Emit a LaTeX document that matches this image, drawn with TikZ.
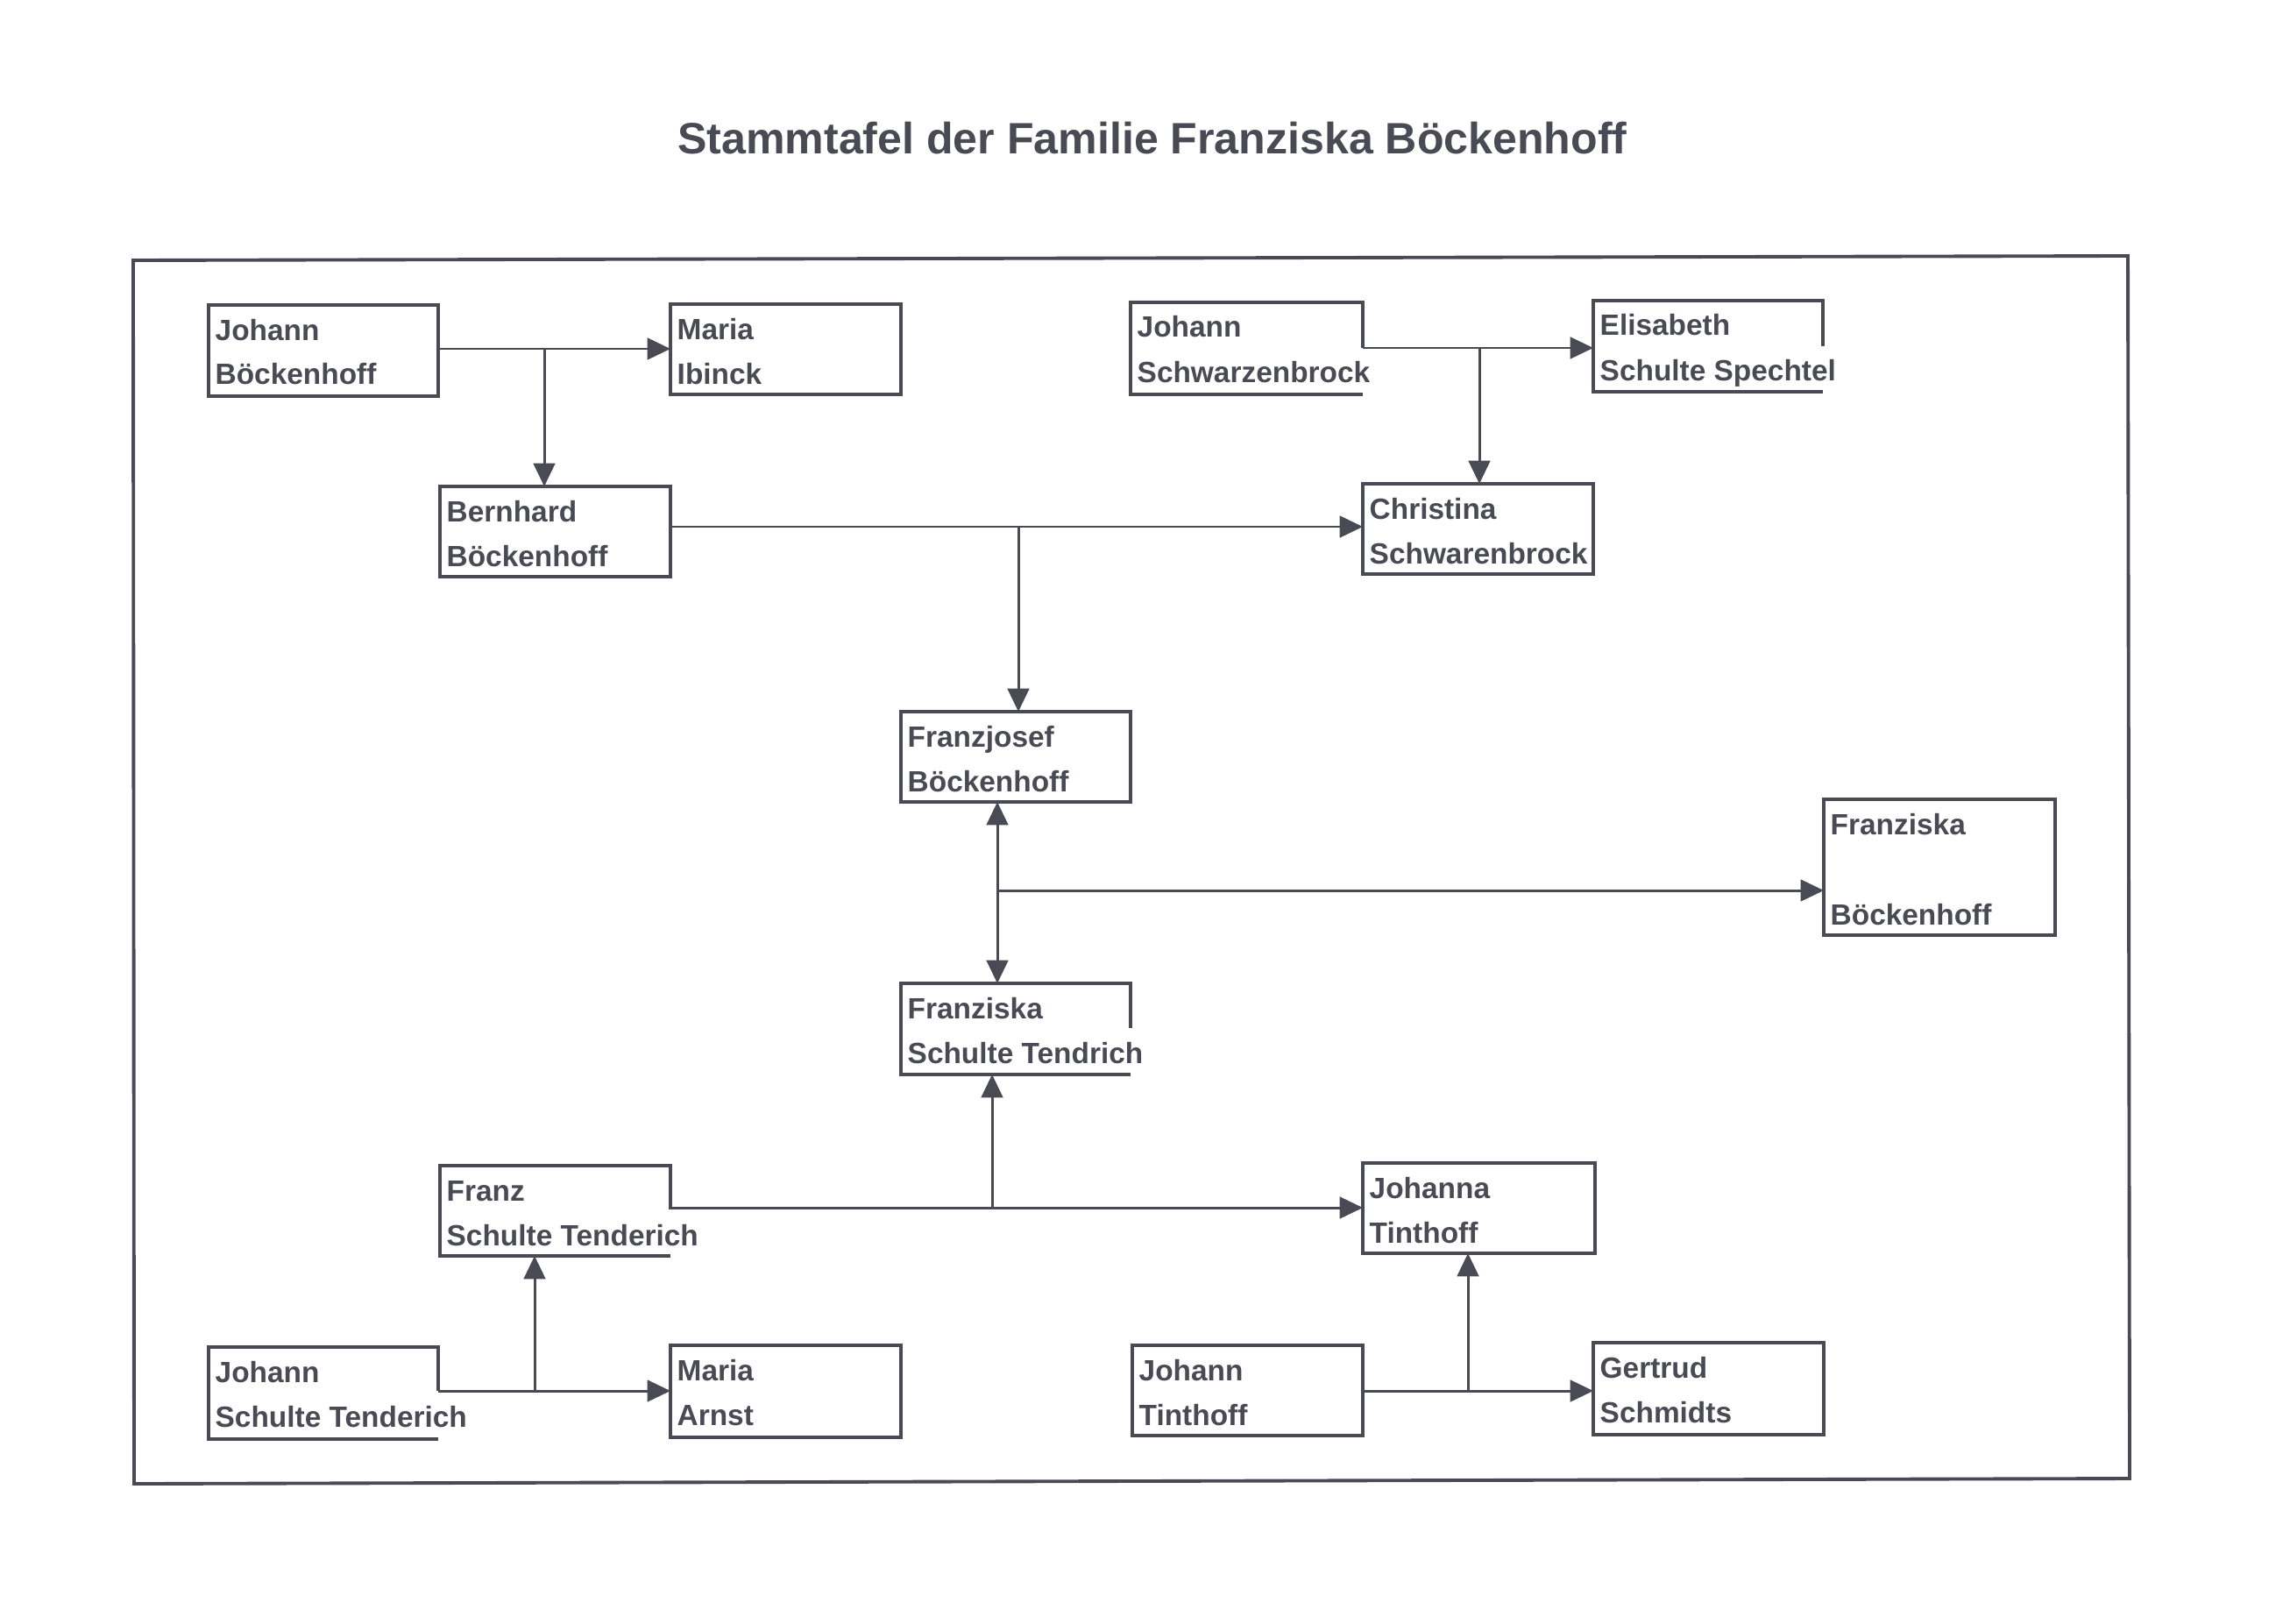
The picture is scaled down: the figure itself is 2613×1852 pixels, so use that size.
\documentclass[tikz,border=0pt]{standalone}
\usepackage{fontspec}
\setmainfont{Liberation Sans}
\usetikzlibrary{calc,arrows.meta}
\definecolor{ink}{RGB}{74,74,84}
\tikzset{
  boxline/.style={draw=ink,line width=1.3pt,line join=miter},
  frameline/.style={draw=ink,line width=1.1pt,line join=miter},
  conn/.style={draw=ink,line width=0.85pt},
  arr/.style={-{Triangle[length=7.5pt,width=7pt]}},
  darr/.style={{Triangle[length=7.5pt,width=7pt]}-{Triangle[length=7.5pt,width=7pt]}},
  pshape/.style={inner sep=0pt,outer sep=0pt,anchor=north west,rectangle},
  ptext/.style={inner sep=0pt,anchor=base west,text=ink,font=\bfseries\fontsize{9.5}{11}\selectfont},
}
% #1 name, #2 x, #3 y, #4 w, #5 h, #6 line1, #7 line2
\newcommand{\pbox}[7]{%
  \node[pshape,boxline,minimum width={#4*0.01cm},minimum height={#5*0.01cm}] (#1) at (#2,#3) {};
  \node[ptext] (#1-a) at ($(#1.north west)+(7,40)$) {#6};
  \node[ptext] (#1-b) at ($(#1.north west)+(7,91)$) {#7};}
% same, right side only drawn for #8 px from the top
\newcommand{\pboxcut}[8]{%
  \node[pshape,minimum width={#4*0.01cm},minimum height={#5*0.01cm}] (#1) at (#2,#3) {};
  \draw[boxline] ($(#1.north east)+(0,#8)$) -- (#1.north east) -- (#1.north west) -- (#1.south west) -- (#1.south east);
  \node[ptext] (#1-a) at ($(#1.north west)+(7,40)$) {#6};
  \node[ptext] (#1-b) at ($(#1.north west)+(7,91)$) {#7};}
\begin{document}
\begin{tikzpicture}[x=0.01cm,y=-0.01cm]
\useasboundingbox[fill=white] (0,0) rectangle (2613,1852);
\node[inner sep=0pt,anchor=base,text=ink,font=\bfseries\fontsize{14.25}{17}\selectfont] (title) at (1315,176) {Stammtafel der Familie Franziska Böckenhoff};
\draw[frameline] (152,297) -- (2428,292) -- (2430,1687) -- (153,1693) -- cycle;
% persons
\pbox{jb}{238}{348}{262}{104}{Johann}{Böckenhoff}
\pbox{mi}{765}{347}{263}{103}{Maria}{Ibinck}
\pboxcut{js}{1290}{345}{265}{105}{Johann}{Schwarzenbrock}{52}
\pboxcut{es}{1818}{343}{262}{104}{Elisabeth}{Schulte Spechtel}{52}
\pbox{bb}{502}{555}{263}{103}{Bernhard}{Böckenhoff}
\pbox{cs}{1555}{552}{263}{103}{Christina}{Schwarenbrock}
\pbox{fb}{1028}{812}{262}{103}{Franzjosef}{Böckenhoff}
\node[pshape,boxline,minimum width={264*0.01cm},minimum height={155*0.01cm}] (fbk) at (2081,912) {};
\node[ptext] (fbk-a) at ($(fbk.north west)+(7,40)$) {Franziska};
\node[ptext] (fbk-b) at ($(fbk.north west)+(7,143)$) {Böckenhoff};
\pboxcut{fst}{1028}{1122}{262}{104}{Franziska}{Schulte Tendrich}{51}
\pboxcut{frst}{502}{1330}{263}{103}{Franz}{Schulte Tenderich}{50}
\pbox{jt}{1555}{1327}{265}{103}{Johanna}{Tinthoff}
\pboxcut{jst}{238}{1537}{262}{105}{Johann}{Schulte Tenderich}{50}
\pbox{ma}{765}{1535}{263}{105}{Maria}{Arnst}
\pbox{jti}{1292}{1535}{263}{103}{Johann}{Tinthoff}
\pbox{gs}{1818}{1532}{263}{105}{Gertrud}{Schmidts}
% junctions
\coordinate (ja) at (621,398);
\coordinate (jbj) at (1688,397);
\coordinate (jc) at (1162,601);
\coordinate (jd) at (1138,1016);
\coordinate (je) at (1132,1378);
\coordinate (jf) at (610,1587);
\coordinate (jg) at (1675,1587);
% connectors
\draw[conn,arr] (ja -| jb.east) -- (ja -| mi.west);
\draw[conn,arr] (ja) -- (ja |- bb.north);
\draw[conn,arr] (jbj -| js.east) -- (jbj -| es.west);
\draw[conn,arr] (jbj) -- (jbj |- cs.north);
\draw[conn,arr] (jc -| bb.east) -- (jc -| cs.west);
\draw[conn,arr] (jc) -- (jc |- fb.north);
\draw[conn,darr] (jd |- fb.south) -- (jd |- fst.north);
\draw[conn,arr] (jd) -- (jd -| fbk.west);
\draw[conn,arr] (je -| frst.east) -- (je -| jt.west);
\draw[conn,arr] (je) -- (je |- fst.south);
\draw[conn,arr] (jf -| jst.east) -- (jf -| ma.west);
\draw[conn,arr] (jf) -- (jf |- frst.south);
\draw[conn,arr] (jg -| jti.east) -- (jg -| gs.west);
\draw[conn,arr] (jg) -- (jg |- jt.south);
\end{tikzpicture}
\end{document}
